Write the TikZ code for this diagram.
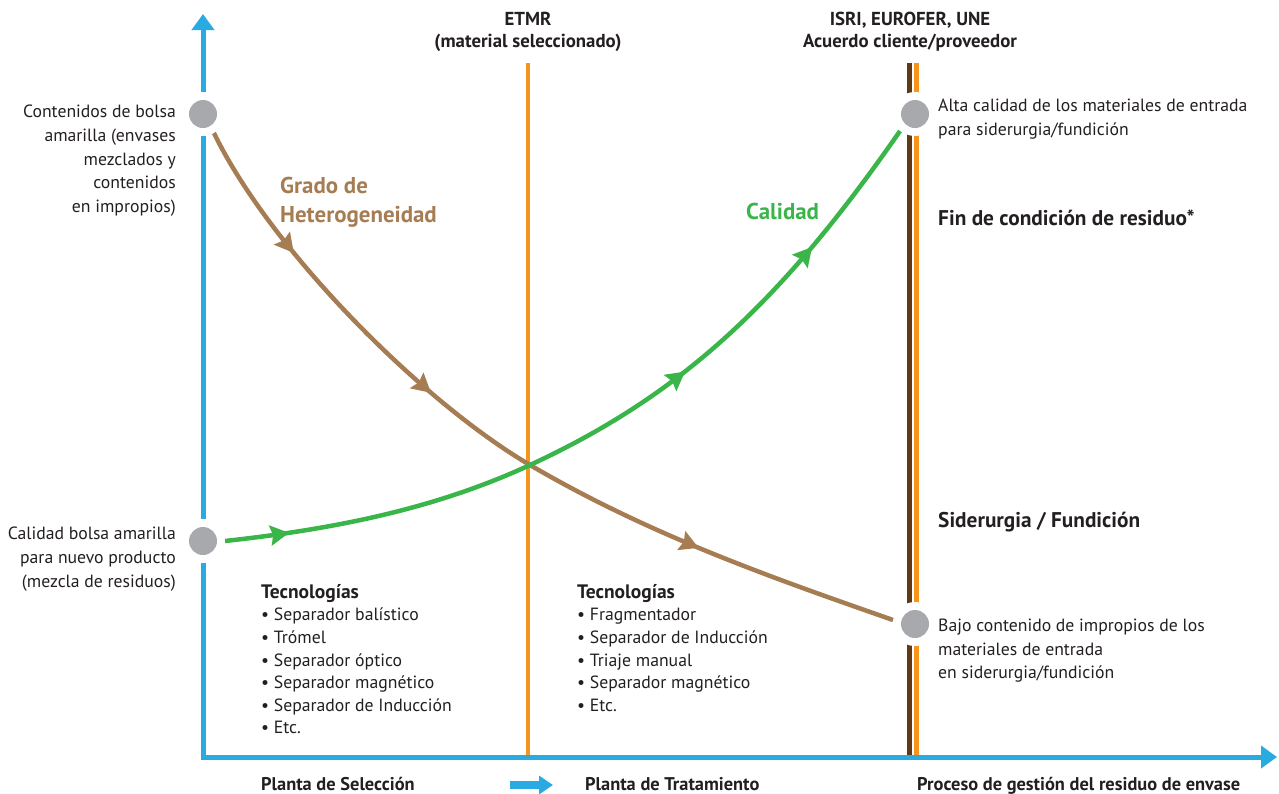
\documentclass[tikz,border=0pt]{standalone}
\usepackage{fontspec}
\setmainfont{PT Sans}
\usetikzlibrary{arrows.meta,decorations.markings}
\definecolor{axisblue}{HTML}{29ABE2}
\definecolor{etmrorange}{HTML}{F7941D}
\definecolor{limitbrown}{HTML}{603913}
\definecolor{hetbrown}{HTML}{A67C52}
\definecolor{qualgreen}{HTML}{39B54A}
\definecolor{dotgrey}{HTML}{A7A9AC}
\definecolor{inkdark}{HTML}{231F20}
% arrow head drawn along the curves
\newcommand\flowtip{\fill (-12,-10.5) -- (7,0) -- (-12,10.5) -- (-9,0) -- cycle;}
\begin{document}
\begin{tikzpicture}[x=1pt,y=-1pt,
  lbl/.style={inner sep=0pt, text=inkdark, font=\fontsize{17.7}{23.6}\selectfont},
  hdr/.style={inner sep=0pt, text=inkdark, font=\bfseries\fontsize{18.8}{22}\selectfont},
  big/.style={inner sep=0pt, font=\bfseries\fontsize{22.9}{29}\selectfont},
  side/.style={inner sep=0pt, text=inkdark, anchor=north west, font=\bfseries\fontsize{21.3}{24}\selectfont},
  dot/.style={circle, inner sep=0pt, minimum size=28pt, fill=dotgrey,
    preaction={draw=white, line width=16pt}},
  flow/.style={line width=4.5pt, postaction={decorate}}]
\useasboundingbox (0,0) rectangle (1279,793);
% vertical limits
\draw[etmrorange, line width=4pt] (528,63) -- (528,757);
\draw[limitbrown, line width=5pt] (909,63) -- (909,757);
\draw[etmrorange, line width=5pt] (916,63) -- (916,757);
% axes
\draw[axisblue, line width=5pt, line join=miter,
  {Triangle[length=16pt,width=22pt]}-{Triangle[length=16pt,width=22pt]}]
  (203,14) -- (203,757) -- (1277,757);
% curves
\draw[flow, hetbrown, decoration={markings,
    mark=at position 0.162 with {\flowtip},
    mark=at position 0.39 with {\flowtip},
    mark=at position 0.751 with {\flowtip}}]
  (213,131) .. controls (268,246.5) and (420,400.5) .. (530,465)
  .. controls (650,535.3) and (773,578) .. (893,620);
\draw[flow, qualgreen, decoration={markings,
    mark=at position 0.07 with {\flowtip},
    mark=at position 0.597 with {\flowtip},
    mark=at position 0.814 with {\flowtip}}]
  (225,541) .. controls (325,530) and (430,511.3) .. (530,465)
  .. controls (680,395.6) and (780,303.8) .. (900,131);
% dots
\node[dot] (mixtop) at (203,114) {};
\node[dot] (mixlow) at (203,541) {};
\node[dot] (endtop) at (915,114) {};
\node[dot] (endlow) at (915,624) {};
% top labels
\node[hdr, align=center, anchor=north] (etmr) at (528,12) {ETMR\\(material seleccionado)};
\node[hdr, align=center, anchor=north] (norms) at (910,12) {ISRI, EUROFER, UNE\\Acuerdo cliente/proveedor};
% left labels
\node[lbl, align=right, anchor=north east] (mixtoptxt) at (176,105)
  {Contenidos de bolsa\\amarilla (envases\\mezclados y\\contenidos\\en impropios)};
\node[lbl, align=right, anchor=north east] (mixlowtxt) at (176,527)
  {Calidad bolsa amarilla\\para nuevo producto\\(mezcla de residuos)};
% right labels
\node[lbl, align=left, anchor=north west] (endtoptxt) at (938,99)
  {Alta calidad de los materiales de entrada\\para siderurgia/fundición};
\node[side] (eow) at (938,210) {Fin de condición de residuo*};
\node[side] (sid) at (938,512) {Siderurgia / Fundición};
\node[lbl, align=left, anchor=north west] (endlowtxt) at (938,619)
  {Bajo contenido de impropios de los\\materiales de entrada\\en siderurgia/fundición};
% curve names
\node[big, text=hetbrown, align=left, anchor=north west] (het) at (280,177) {Grado de\\Heterogeneidad};
\node[big, text=qualgreen, anchor=north west] (cal) at (746,203) {Calidad};
% technologies
\node[lbl, align=left, anchor=north west, font=\fontsize{17.7}{22.6}\selectfont] (techsel) at (261,584)
  {{\bfseries\fontsize{19.5}{22.6}\selectfont Tecnologías}\\• Separador balístico\\• Trómel\\• Separador óptico\\• Separador magnético\\• Separador de Inducción\\• Etc.};
\node[lbl, align=left, anchor=north west, font=\fontsize{17.7}{22.6}\selectfont] (techtrat) at (577,584)
  {{\bfseries\fontsize{19.5}{22.6}\selectfont Tecnologías}\\• Fragmentador\\• Separador de Inducción\\• Triaje manual\\• Separador magnético\\• Etc.};
% bottom labels
\node[hdr, font=\bfseries\fontsize{18.4}{22}\selectfont, anchor=base west] (sel) at (261,790) {Planta de Selección};
\node[hdr, font=\bfseries\fontsize{18.4}{22}\selectfont, anchor=base west] (trat) at (585,790) {Planta de Tratamiento};
\node[hdr, font=\bfseries\fontsize{18.4}{22}\selectfont, anchor=base west] (proc) at (917,790) {Proceso de gestión del residuo de envase};
\coordinate (stepfrom) at (510,785);
\coordinate (stepto) at (553,785);
\draw[axisblue, line width=8pt, -{Triangle[length=14pt,width=18pt]}] (stepfrom) -- (stepto);
\end{tikzpicture}
\end{document}
